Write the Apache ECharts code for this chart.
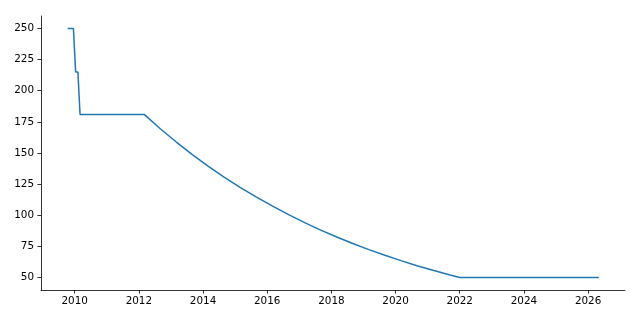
<!DOCTYPE html>
<html>
<head>
<meta charset="utf-8">
<script src="https://cdn.jsdelivr.net/npm/echarts@6/dist/echarts.min.js"></script>
<style>html,body{margin:0;padding:0;background:#fff}#c{width:640px;height:320px}</style>
</head>
<body>
<div id="c"></div>
<script>
const years = [2009.78, 2009.96, 2010.03, 2010.10, 2010.167, 2012.167,
  2012.667, 2013.167, 2013.667, 2014.167, 2014.667, 2015.167, 2015.667, 2016.167,
  2016.667, 2017.167, 2017.667, 2018.167, 2018.667, 2019.167, 2019.667, 2020.167,
  2020.667, 2021.167, 2021.667, 2022.0, 2026.333];
const values = [250, 250, 215, 215, 181, 181,
  169.5, 158.8, 148.7, 139.3, 130.5, 122.2, 114.5, 107.3,
  100.5, 94.1, 88.1, 82.6, 77.3, 72.4, 67.9, 63.6,
  59.5, 55.8, 52.2, 50, 50];
const xTicks = [2010, 2012, 2014, 2016, 2018, 2020, 2022, 2024, 2026];
const yTicks = [50, 75, 100, 125, 150, 175, 200, 225, 250];

const chart = echarts.init(document.getElementById('c'), null, {renderer: 'canvas'});
const font = {fontFamily: 'DejaVu Sans', fontSize: 10.4, color: '#000'};
chart.setOption({
  animation: false,
  grid: {left: 41, right: 15, top: 16, bottom: 30},
  xAxis: {
    type: 'value', min: 2008.95, max: 2027.15,
    axisLine: {show: true, lineStyle: {color: '#000', width: 0.8}},
    axisTick: {show: true, length: 3.6, lineStyle: {color: '#000', width: 0.8}, customValues: xTicks},
    axisLabel: Object.assign({margin: 6, customValues: xTicks, formatter: v => String(Math.round(v))}, font),
    splitLine: {show: false}
  },
  yAxis: {
    type: 'value', min: 40, max: 260,
    axisLine: {show: true, lineStyle: {color: '#000', width: 0.8}},
    axisTick: {show: true, length: 3.6, lineStyle: {color: '#000', width: 0.8}, customValues: yTicks},
    axisLabel: Object.assign({margin: 7, customValues: yTicks, formatter: v => String(Math.round(v))}, font),
    splitLine: {show: false}
  },
  series: [{
    type: 'line',
    data: years.map((y, i) => [y, values[i]]),
    showSymbol: false,
    lineStyle: {color: '#1f77b4', width: 1.5},
    itemStyle: {color: '#1f77b4'}
  }]
});
</script>
</body>
</html>
